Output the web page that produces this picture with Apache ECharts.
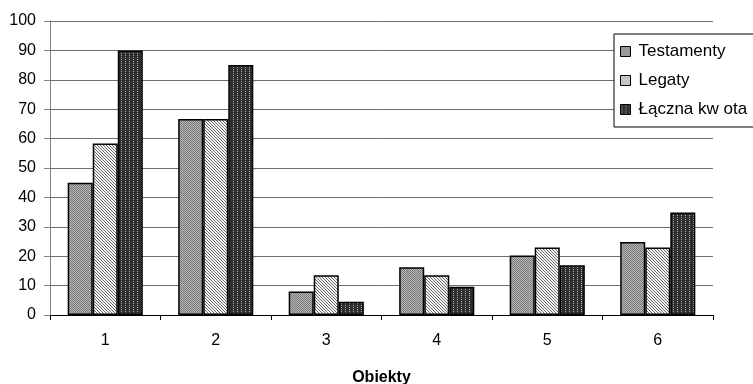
<!DOCTYPE html>
<html>
<head>
<meta charset="utf-8">
<script src="https://cdn.jsdelivr.net/npm/echarts@6/dist/echarts.min.js"></script>
<style>
html,body{margin:0;padding:0;background:#fff;}
#chart{width:753px;height:384px;}
</style>
</head>
<body>
<div id="chart"></div>
<script>
var categories = ['1', '2', '3', '4', '5', '6'];
var testamenty = [45, 66.7, 8, 16.2, 20.2, 24.8];
var legaty = [58.3, 66.7, 13.5, 13.5, 23, 23];
var lacznaKwota = [90, 85, 4.5, 9.6, 16.9, 34.9];
var seriesNames = ['Testamenty', 'Legaty', 'Łączna kw ota'];
var yTicks = [0, 100, 10];

function makePattern(w, h, bg, fg, pts) {
  var c = document.createElement('canvas');
  c.width = w; c.height = h;
  var ctx = c.getContext('2d');
  ctx.fillStyle = bg; ctx.fillRect(0, 0, w, h);
  ctx.fillStyle = fg;
  pts.forEach(function (p) { ctx.fillRect(p[0], p[1], 1, 1); });
  return { image: c, repeat: 'repeat' };
}
var patTest = makePattern(2, 2, '#b4b4b4', '#7c7c7c', [[0, 0], [1, 1]]);
var patLeg = makePattern(3, 3, '#f4f4f4', '#6a6a6a', [[0, 0], [1, 1], [2, 2]]);
var patLacz = makePattern(4, 4, '#2e2e2e', '#b0b0b0', [[1, 1], [1, 3]]);

var font = 'Liberation Sans, Arial, sans-serif';
var chart = echarts.init(document.getElementById('chart'), null, { renderer: 'canvas' });
function mk(name, data, pat) {
  return {
    name: name, type: 'bar', data: data,
    barGap: '0%', barCategoryGap: '32%',
    itemStyle: { color: pat, borderColor: '#000', borderWidth: 1.5 },
    emphasis: { disabled: true }
  };
}
chart.setOption({
  animation: false,
  backgroundColor: '#fff',
  grid: { left: 50, right: 40, top: 21, bottom: 69, containLabel: false, outerBoundsMode: 'none' },
  legend: {
    orient: 'vertical', left: 614, top: 34,
    padding: [9, 60, 9, 6],
    itemGap: 12, itemWidth: 10, itemHeight: 10,
    backgroundColor: '#fff', borderColor: '#000', borderWidth: 1,
    borderRadius: 0,
    textStyle: { fontFamily: font, fontSize: 17, color: '#000', padding: [0, 0, 0, 3] },
    icon: 'rect',
    itemStyle: { borderColor: '#000', borderWidth: 1 },
    data: seriesNames
  },
  xAxis: {
    type: 'category', data: categories,
    name: 'Obiekty', nameLocation: 'middle', nameGap: 55,
    nameTextStyle: { fontFamily: font, fontSize: 16, fontWeight: 'bold', color: '#000' },
    axisLine: { lineStyle: { color: '#000', width: 1 } },
    axisTick: { show: true, length: 5, lineStyle: { color: '#000' } },
    axisLabel: { fontFamily: font, fontSize: 16, color: '#000', margin: 18 }
  },
  yAxis: {
    type: 'value', min: yTicks[0], max: yTicks[1], interval: yTicks[2],
    axisLine: { show: true, lineStyle: { color: '#808080' } },
    axisTick: { show: true, length: 6, lineStyle: { color: '#808080' } },
    axisLabel: { fontFamily: font, fontSize: 16, color: '#000', margin: 14 },
    splitLine: { lineStyle: { color: '#6e6e6e', width: 1 } }
  },
  series: [
    mk(seriesNames[0], testamenty, patTest),
    mk(seriesNames[1], legaty, patLeg),
    mk(seriesNames[2], lacznaKwota, patLacz)
  ]
});
</script>
</body>
</html>
